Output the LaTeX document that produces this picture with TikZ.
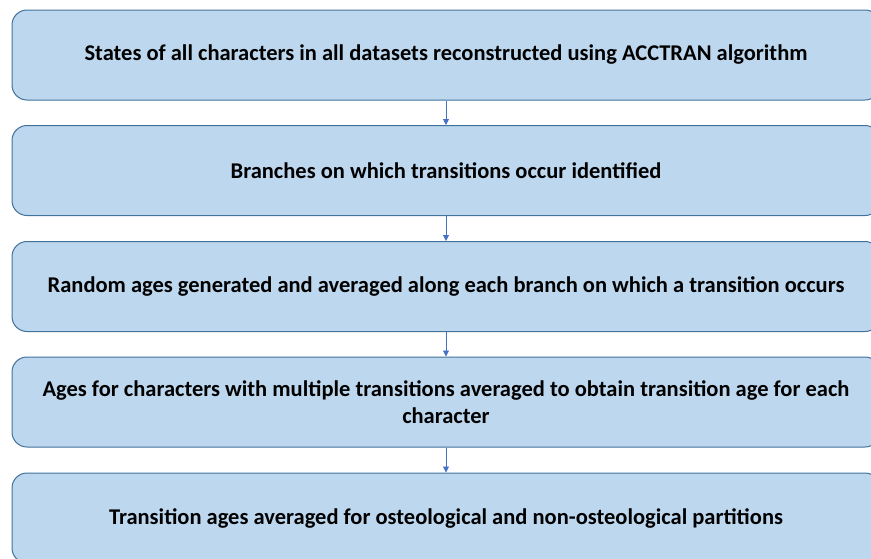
\documentclass[tikz,border=0pt]{standalone}
\usepackage{fontspec}
\setmainfont{Carlito}
\usepackage{tikz}
\usetikzlibrary{arrows.meta}

\definecolor{boxfill}{HTML}{BDD7EE}
\definecolor{boxline}{HTML}{41719C}
\definecolor{arrowline}{HTML}{4472C4}

\begin{document}
\begin{tikzpicture}[x=1pt, y=-1pt,
    stage/.style={draw=boxline, fill=boxfill, line width=1pt, rounded corners=15pt,
        minimum width=868pt, minimum height=90pt, inner sep=0pt, align=center,
        font=\fontsize{22.5}{26.5}\selectfont\bfseries},
    flow/.style={draw=arrowline, line width=0.8pt, -{Triangle[length=6pt,width=6pt]}}]
    % Canvas of the picture
    \useasboundingbox (0,0) rectangle (871,558);
    \clip (0,0) rectangle (871,558);

    % The five stages, top to bottom
    \node[stage] (states) at (446,55) {States of all characters in all datasets reconstructed using ACCTRAN algorithm};
    \node[stage] (branches) at (446,170.5) {Branches on which transitions occur identified};
    \node[stage] (randomages) at (446,286.5) {Random ages generated and averaged along each branch on which a transition occurs};
    \node[stage] (charages) at (446,402) {Ages for characters with multiple transitions averaged to obtain transition age for each\\character};
    \node[stage] (partitions) at (446,518) {Transition ages averaged for osteological and non-osteological partitions};

    % Arrows between the stages
    \draw[flow] (states.south) -- (branches.north);
    \draw[flow] (branches.south) -- (randomages.north);
    \draw[flow] (randomages.south) -- (charages.north);
    \draw[flow] (charages.south) -- (partitions.north);
\end{tikzpicture}
\end{document}
